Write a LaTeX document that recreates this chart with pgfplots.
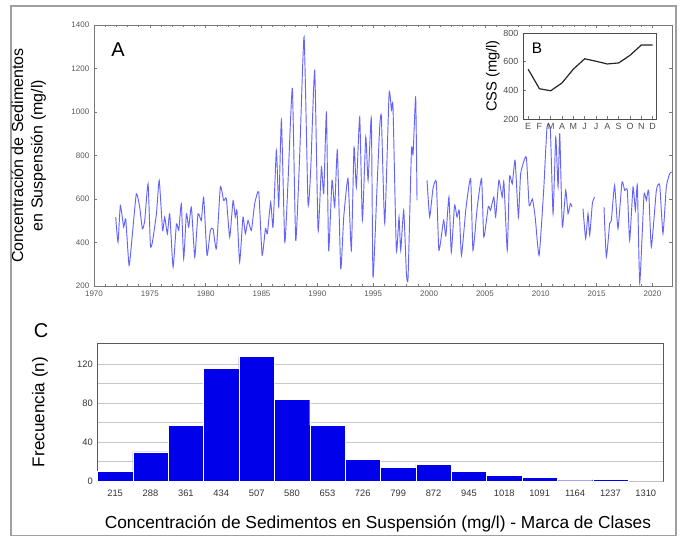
\documentclass[border=0pt]{standalone}
\usepackage{fontspec}
\setmainfont{Liberation Sans}
\usepackage{pgfplots}
\pgfplotsset{compat=1.18}
\definecolor{serie}{RGB}{100,100,250}
\definecolor{barblue}{RGB}{0,0,235}
\definecolor{framegray}{RGB}{120,120,120}
\tikzset{ser/.style={color=serie, line width=0.7pt, smooth, tension=0.3, mark=none}}
\begin{document}
\begin{tikzpicture}
\useasboundingbox (0,0) rectangle (510pt,402pt);
\draw[gray!75, line width=1.1pt] (8.25pt,0.5pt) rectangle (507pt,397.5pt);
% ---------------- Panel A ----------------
\begin{axis}[
  at={(70.5pt,187.5pt)}, anchor=south west, scale only axis,
  width=433.5pt, height=195.75pt,
  xmin=1970, xmax=2021.75, ymin=200, ymax=1400,
  xtick={1970,1975,...,2020}, minor x tick num=4,
  ytick={200,400,...,1400},
  xtick pos=both, ytick pos=both,
  tick align=inside, major tick length=2.5pt, minor tick length=1.8pt,
  every tick/.style={framegray, line width=0.4pt},
  axis line style={framegray, line width=0.6pt},
  ticklabel style={font=\fontsize{6}{7}\selectfont, text=black!65},
  /pgf/number format/1000 sep={}, /pgf/number format/assume math mode=true,
  ylabel={Concentración de Sedimentos\\en Suspensión (mg/l)},
  ylabel style={at={(axis description cs:-0.113,0.5)}, anchor=center, align=center,
    font=\fontsize{12}{14.5}\selectfont},
  clip=false,
]
\addplot[ser] coordinates {
(1971.94,517) (1972.15,402) (1972.36,570) (1972.66,471) (1972.84,509) (1973.14,295)
(1973.44,440) (1973.79,624) (1974.09,563) (1974.33,463) (1974.54,501) (1974.84,670)
(1975.05,387) (1975.23,402) (1975.59,532) (1975.84,685) (1976.14,456) (1976.33,517)
(1976.57,440) (1976.78,532) (1977.08,287) (1977.38,486) (1977.59,456) (1977.82,578)
(1978.03,325) (1978.27,532) (1978.48,471) (1978.72,563) (1979.02,333) (1979.31,532)
(1979.61,501) (1979.82,609) (1980.12,341) (1980.42,456) (1980.66,463) (1980.96,371)
(1981.31,655) (1981.61,593) (1981.85,601) (1982.15,425) (1982.45,593) (1982.65,517)
(1982.80,547) (1983.04,310) (1983.34,517) (1983.55,440) (1983.79,501) (1984.09,456)
(1984.39,579) (1984.75,632) (1985.05,341) (1985.35,464) (1985.52,441) (1985.82,586)
(1986.03,471) (1986.33,824) (1986.54,563) (1986.78,962) (1987.08,402) (1987.37,678)
(1987.76,1108) (1988.06,410) (1988.42,809) (1988.81,1345) (1989.16,579) (1989.40,732)
(1989.76,1192) (1990.06,456) (1990.36,747) (1990.57,625) (1990.81,1000) (1991.01,364)
(1991.31,686) (1991.55,563) (1991.79,824) (1992.09,280) (1992.36,517) (1992.74,694)
(1993.04,364) (1993.28,839) (1993.49,655) (1993.79,977) (1994.03,502) (1994.33,885)
(1994.54,686) (1994.83,970) (1994.98,241) (1995.34,655) (1995.58,931) (1995.73,977)
(1996.03,488) (1996.42,1085) (1996.63,1008) (1996.77,1023) (1997.07,364) (1997.31,517)
(1997.46,364) (1997.73,548) (1997.97,258) (1998.12,241) (1998.42,824) (1998.57,808)
(1998.80,1069) (1998.92,594)
};
\addplot[ser] coordinates {
(1999.82,686) (2000.05,517) (2000.35,648) (2000.65,678) (2000.88,364) (2001.30,502)
(2001.50,430) (2001.78,609) (2001.99,356) (2002.28,571) (2002.50,517) (2002.70,548)
(2002.90,341) (2003.30,556) (2003.72,694) (2003.93,364) (2004.30,556) (2004.70,694)
(2004.90,425) (2005.30,565) (2005.50,548) (2005.80,609) (2005.96,517) (2006.25,686)
(2006.55,609) (2006.70,678) (2007.00,364) (2007.20,701) (2007.45,670) (2007.70,778)
(2008.00,517) (2008.20,716) (2008.70,793) (2008.96,571) (2009.25,600) (2009.50,517)
(2009.85,341) (2010.26,640) (2010.56,931) (2010.86,916) (2011.10,533) (2011.34,885)
(2011.55,655) (2011.70,900) (2011.93,471) (2012.23,640) (2012.44,533) (2012.65,579)
(2012.80,563)
};
\addplot[ser] coordinates {
(2013.78,556) (2014.02,418) (2014.23,533) (2014.38,433) (2014.62,580) (2014.83,609)
};
\addplot[ser] coordinates {
(2015.66,563) (2015.87,333) (2016.17,487) (2016.32,502) (2016.61,663) (2016.91,464)
(2017.27,678) (2017.51,640) (2017.75,640) (2017.96,410) (2018.26,655) (2018.47,548)
(2018.65,663) (2018.86,214) (2019.24,617) (2019.45,594) (2019.66,640) (2019.90,379)
(2020.35,640) (2020.65,663) (2020.94,441) (2021.24,655) (2021.54,717) (2021.72,724)
};
\node[font=\fontsize{15}{15}\selectfont] at (axis description cs:0.0415,0.904) {A};
\end{axis}
% ---------------- Panel B (inset) ----------------
\begin{axis}[
  at={(392.25pt,312.75pt)}, anchor=south west, scale only axis,
  width=99.75pt, height=64.5pt,
  xmin=0.55, xmax=12.3, ymin=200, ymax=800,
  xtick={1,...,12}, xticklabels={E,F,M,A,M,J,J,A,S,O,N,D},
  ytick={200,400,600,800},
  tick align=inside, major tick length=2pt,
  xtick pos=bottom, ytick pos=left,
  every tick/.style={framegray, line width=0.4pt},
  axis line style={black!70, line width=0.6pt},
  axis background/.style={fill=white},
  ticklabel style={font=\fontsize{6.7}{7}\selectfont, text=black!70},
  /pgf/number format/assume math mode=true,
  ylabel={CSS (mg/l)},
  ylabel style={at={(axis description cs:-0.226,0.5)}, anchor=center,
    font=\fontsize{11}{12}\selectfont},
  clip=false,
]
\addplot[black!85, line width=0.9pt, mark=none] coordinates {
(1,548) (2,411) (3,397) (4,452) (5,548) (6,620) (7,603) (8,584) (9,591) (10,644) (11,716) (12,716)
};
\node[font=\fontsize{11.5}{12}\selectfont] at (axis description cs:0.105,0.826) {B};
\end{axis}
% ---------------- Panel C ----------------
\begin{axis}[
  at={(73.1pt,41.25pt)}, anchor=south west, scale only axis,
  width=424.5pt, height=103.5pt,
  xmin=-0.5, xmax=15.5, ymin=0, ymax=142,
  ybar, bar width=26.53pt,
  xtick={0,...,15},
  xticklabels={215,288,361,434,507,580,653,726,799,872,945,1018,1091,1164,1237,1310},
  xticklabel style={yshift=-3.5pt},
  ytick={0,40,80,120}, minor ytick={20,60,100},
  ymajorgrids, yminorgrids,
  major grid style={black!22, line width=0.5pt},
  minor grid style={black!22, line width=0.5pt},
  major tick length=0pt, minor tick length=0pt,
  axis line style={black!65, line width=0.7pt},
  ticklabel style={font=\fontsize{7}{8}\selectfont, text=black!80},
  /pgf/number format/assume math mode=true,
  xlabel={Concentración de Sedimentos en Suspensión (mg/l) - Marca de Clases},
  xlabel style={at={(axis description cs:0.4956,-0.312)}, anchor=center,
    font=\fontsize{13}{14}\selectfont},
  ylabel={Frecuencia (n)},
  ylabel style={at={(axis description cs:-0.1016,0.5)}, anchor=center,
    font=\fontsize{12.8}{14}\selectfont},
  clip=false,
]
\addplot[fill=barblue, draw=white, line width=0.3pt] coordinates {
(0,10) (1,30) (2,57) (3,116) (4,128) (5,84) (6,57) (7,22) (8,14) (9,17)
(10,10) (11,5.5) (12,3.8) (13,0.3) (14,1.4) (15,0)
};
\node[font=\fontsize{15}{15}\selectfont] at (axis description cs:-0.0998,1.087) {C};
\end{axis}
\end{tikzpicture}
\end{document}
